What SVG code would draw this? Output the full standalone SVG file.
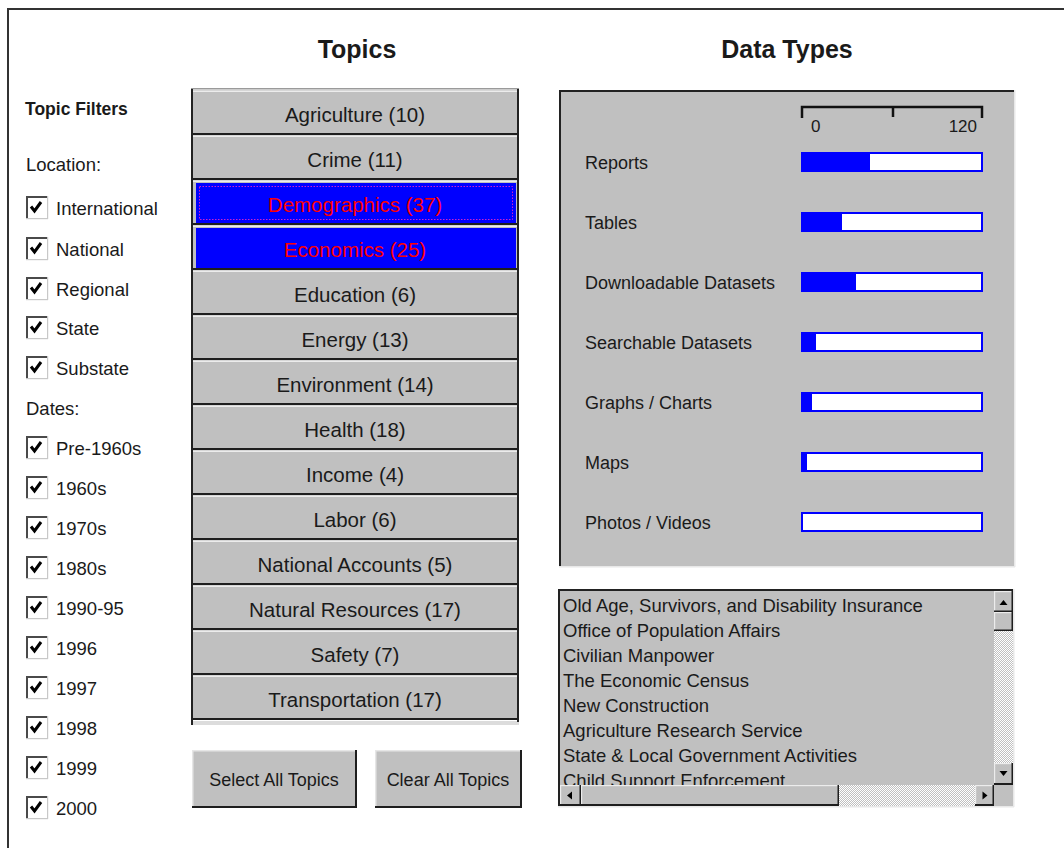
<svg xmlns="http://www.w3.org/2000/svg" width="1064" height="848" viewBox="0 0 1064 848">
<style>
.t{font-family:"Liberation Sans",Arial,sans-serif;fill:#1a1a1a}
.lbl{font-size:18.5px}
.btn{font-size:20.5px;text-anchor:middle}
.sel{fill:#ff0000}
.title{font-size:25px;font-weight:bold;text-anchor:middle}
.gray{fill:#c0c0c0}
.hl{fill:#ececec}
.sh{fill:#1e1e1e}
.blue{fill:#0000ff}
.bar{fill:#ffffff;stroke:#0000ff;stroke-width:2}
</style>
<defs>
<g id="cb">
<rect x="0" y="0" width="22" height="23" fill="#ffffff"/>
<rect x="0" y="0" width="22" height="2" fill="#4a4a4a"/>
<rect x="0" y="0" width="2" height="23" fill="#4a4a4a"/>
<rect x="0" y="22" width="22" height="1.2" fill="#c8c8c8"/>
<rect x="21" y="0" width="1.2" height="23" fill="#c8c8c8"/>
<path d="M5 10.5 L8.5 15 L15 6" fill="none" stroke="#000" stroke-width="3"/>
</g>
<pattern id="dither" width="2" height="2" patternUnits="userSpaceOnUse">
<rect width="2" height="2" fill="#c0c0c0"/>
<rect width="1" height="1" fill="#ffffff"/>
<rect x="1" y="1" width="1" height="1" fill="#ffffff"/>
</pattern>
<clipPath id="listclip"><rect x="560" y="591" width="434" height="194"/></clipPath>
</defs>
<rect width="1064" height="848" fill="#ffffff"/>
<g id="frame">
<rect x="7" y="8" width="1057" height="2" fill="#333"/>
<rect x="7" y="8" width="2" height="840" fill="#333"/>
</g>

<g id="titles">
<text class="t title" x="357" y="58">Topics</text>
<text class="t title" x="787" y="58">Data Types</text>
</g>

<g id="filters">
<text class="t" x="25" y="115" style="font-size:17.5px;font-weight:bold">Topic Filters</text>
<text class="t lbl" x="26" y="171">Location:</text>
<g id="cb-international"><use href="#cb" x="26" y="196"/><text class="t lbl" x="56" y="215">International</text></g>
<g id="cb-national"><use href="#cb" x="26" y="237"/><text class="t lbl" x="56" y="256">National</text></g>
<g id="cb-regional"><use href="#cb" x="26" y="277"/><text class="t lbl" x="56" y="296">Regional</text></g>
<g id="cb-state"><use href="#cb" x="26" y="316"/><text class="t lbl" x="56" y="335">State</text></g>
<g id="cb-substate"><use href="#cb" x="26" y="356"/><text class="t lbl" x="56" y="375">Substate</text></g>
<text class="t lbl" x="26" y="415">Dates:</text>
<g id="cb-pre1960"><use href="#cb" x="26" y="436"/><text class="t lbl" x="56" y="455">Pre-1960s</text></g>
<g id="cb-1960"><use href="#cb" x="26" y="476"/><text class="t lbl" x="56" y="495">1960s</text></g>
<g id="cb-1970"><use href="#cb" x="26" y="516"/><text class="t lbl" x="56" y="535">1970s</text></g>
<g id="cb-1980"><use href="#cb" x="26" y="556"/><text class="t lbl" x="56" y="575">1980s</text></g>
<g id="cb-1990"><use href="#cb" x="26" y="596"/><text class="t lbl" x="56" y="615">1990-95</text></g>
<g id="cb-1996"><use href="#cb" x="26" y="636"/><text class="t lbl" x="56" y="655">1996</text></g>
<g id="cb-1997"><use href="#cb" x="26" y="676"/><text class="t lbl" x="56" y="695">1997</text></g>
<g id="cb-1998"><use href="#cb" x="26" y="716"/><text class="t lbl" x="56" y="735">1998</text></g>
<g id="cb-1999"><use href="#cb" x="26" y="756"/><text class="t lbl" x="56" y="775">1999</text></g>
<g id="cb-2000"><use href="#cb" x="26" y="796"/><text class="t lbl" x="56" y="815">2000</text></g>
</g>

<g id="topics">
<rect x="191" y="88" width="328" height="1.5" fill="#9a9a9a"/>
<rect x="191" y="721" width="328" height="4" fill="#dcdcdc"/>
<g id="topic-agriculture"><rect class="gray" x="193" y="90" width="324" height="45"/><rect class="hl" x="193" y="90.5" width="324" height="1.5"/><rect class="sh" x="193" y="133" width="324" height="2"/><text class="t btn" x="355" y="122">Agriculture (10)</text></g>
<g id="topic-crime"><rect class="gray" x="193" y="135" width="324" height="45"/><rect class="hl" x="193" y="135.5" width="324" height="1.5"/><rect class="sh" x="193" y="178" width="324" height="2"/><text class="t btn" x="355" y="167">Crime (11)</text></g>
<g id="topic-demographics"><rect class="gray" x="193" y="180" width="324" height="45"/><rect class="hl" x="193" y="180.5" width="324" height="1.5"/><rect class="blue" x="196" y="183" width="320" height="40"/><rect x="199.5" y="186.5" width="313" height="33" fill="none" stroke="#cc22cc" stroke-width="1" stroke-dasharray="1.5 1.5"/><rect class="sh" x="193" y="223" width="324" height="2"/><text class="t btn sel" x="355" y="212">Demographics (37)</text></g>
<g id="topic-economics"><rect class="gray" x="193" y="225" width="324" height="45"/><rect class="hl" x="193" y="225.5" width="324" height="1.5"/><rect class="blue" x="196" y="228" width="320" height="40"/><rect class="sh" x="193" y="268" width="324" height="2"/><text class="t btn sel" x="355" y="257">Economics (25)</text></g>
<g id="topic-education"><rect class="gray" x="193" y="270" width="324" height="45"/><rect class="hl" x="193" y="270.5" width="324" height="1.5"/><rect class="sh" x="193" y="313" width="324" height="2"/><text class="t btn" x="355" y="302">Education (6)</text></g>
<g id="topic-energy"><rect class="gray" x="193" y="315" width="324" height="45"/><rect class="hl" x="193" y="315.5" width="324" height="1.5"/><rect class="sh" x="193" y="358" width="324" height="2"/><text class="t btn" x="355" y="347">Energy (13)</text></g>
<g id="topic-environment"><rect class="gray" x="193" y="360" width="324" height="45"/><rect class="hl" x="193" y="360.5" width="324" height="1.5"/><rect class="sh" x="193" y="403" width="324" height="2"/><text class="t btn" x="355" y="392">Environment (14)</text></g>
<g id="topic-health"><rect class="gray" x="193" y="405" width="324" height="45"/><rect class="hl" x="193" y="405.5" width="324" height="1.5"/><rect class="sh" x="193" y="448" width="324" height="2"/><text class="t btn" x="355" y="437">Health (18)</text></g>
<g id="topic-income"><rect class="gray" x="193" y="450" width="324" height="45"/><rect class="hl" x="193" y="450.5" width="324" height="1.5"/><rect class="sh" x="193" y="493" width="324" height="2"/><text class="t btn" x="355" y="482">Income (4)</text></g>
<g id="topic-labor"><rect class="gray" x="193" y="495" width="324" height="45"/><rect class="hl" x="193" y="495.5" width="324" height="1.5"/><rect class="sh" x="193" y="538" width="324" height="2"/><text class="t btn" x="355" y="527">Labor (6)</text></g>
<g id="topic-national-accounts"><rect class="gray" x="193" y="540" width="324" height="45"/><rect class="hl" x="193" y="540.5" width="324" height="1.5"/><rect class="sh" x="193" y="583" width="324" height="2"/><text class="t btn" x="355" y="572">National Accounts (5)</text></g>
<g id="topic-natural-resources"><rect class="gray" x="193" y="585" width="324" height="45"/><rect class="hl" x="193" y="585.5" width="324" height="1.5"/><rect class="sh" x="193" y="628" width="324" height="2"/><text class="t btn" x="355" y="617">Natural Resources (17)</text></g>
<g id="topic-safety"><rect class="gray" x="193" y="630" width="324" height="45"/><rect class="hl" x="193" y="630.5" width="324" height="1.5"/><rect class="sh" x="193" y="673" width="324" height="2"/><text class="t btn" x="355" y="662">Safety (7)</text></g>
<g id="topic-transportation"><rect class="gray" x="193" y="675" width="324" height="45"/><rect class="hl" x="193" y="675.5" width="324" height="1.5"/><rect class="sh" x="193" y="718" width="324" height="2"/><text class="t btn" x="355" y="707">Transportation (17)</text></g>
<rect x="191" y="89" width="2" height="636" fill="#222"/>
<rect x="517" y="89" width="2" height="633" fill="#222"/>
</g>

<g id="btn-select-all">
<rect class="gray" x="192" y="750" width="164" height="58"/>
<rect x="192" y="750" width="164" height="1.5" fill="#e6e6e6"/>
<rect x="192" y="750" width="1.5" height="58" fill="#e6e6e6"/>
<rect class="sh" x="192" y="806" width="165" height="2"/>
<rect class="sh" x="355" y="750" width="2" height="58"/>
<text class="t" x="274" y="786" style="font-size:18px;text-anchor:middle">Select All Topics</text>
</g>
<g id="btn-clear-all">
<rect class="gray" x="375" y="750" width="146" height="58"/>
<rect x="375" y="750" width="146" height="1.5" fill="#e6e6e6"/>
<rect x="375" y="750" width="1.5" height="58" fill="#e6e6e6"/>
<rect class="sh" x="375" y="806" width="147" height="2"/>
<rect class="sh" x="520" y="750" width="2" height="58"/>
<text class="t" x="448" y="786" style="font-size:18px;text-anchor:middle">Clear All Topics</text>
</g>

<g id="data-types">
<rect class="gray" x="559" y="90" width="456" height="477"/>
<rect x="559" y="90" width="456" height="2" fill="#222"/>
<rect x="559" y="90" width="2" height="477" fill="#222"/>
<rect x="559" y="566" width="456" height="1.5" fill="#e8e8e8"/>
<rect x="1014" y="90" width="1.5" height="477" fill="#e8e8e8"/>
<g id="axis">
<path d="M802 118 V107 H982 V118 M893 107 V117" fill="none" stroke="#111" stroke-width="2.5"/>
<text class="t" x="811" y="132" style="font-size:17px">0</text>
<text class="t" x="977" y="132" style="font-size:17px;text-anchor:end">120</text>
</g>
<g id="dt-reports"><text class="t" x="585" y="169" style="font-size:18px">Reports</text><rect class="bar" x="802" y="153" width="180" height="18"/><rect class="blue" x="801" y="152" width="69" height="20"/></g>
<g id="dt-tables"><text class="t" x="585" y="229" style="font-size:18px">Tables</text><rect class="bar" x="802" y="213" width="180" height="18"/><rect class="blue" x="801" y="212" width="41" height="20"/></g>
<g id="dt-downloadable"><text class="t" x="585" y="289" style="font-size:18px">Downloadable Datasets</text><rect class="bar" x="802" y="273" width="180" height="18"/><rect class="blue" x="801" y="272" width="55" height="20"/></g>
<g id="dt-searchable"><text class="t" x="585" y="349" style="font-size:18px">Searchable Datasets</text><rect class="bar" x="802" y="333" width="180" height="18"/><rect class="blue" x="801" y="332" width="15" height="20"/></g>
<g id="dt-graphs"><text class="t" x="585" y="409" style="font-size:18px">Graphs / Charts</text><rect class="bar" x="802" y="393" width="180" height="18"/><rect class="blue" x="801" y="392" width="11" height="20"/></g>
<g id="dt-maps"><text class="t" x="585" y="469" style="font-size:18px">Maps</text><rect class="bar" x="802" y="453" width="180" height="18"/><rect class="blue" x="801" y="452" width="6" height="20"/></g>
<g id="dt-photos"><text class="t" x="585" y="529" style="font-size:18px">Photos / Videos</text><rect class="bar" x="802" y="513" width="180" height="18"/></g>
</g>

<g id="source-list">
<rect class="gray" x="558" y="589" width="456" height="218"/>
<rect x="558" y="589" width="456" height="2" fill="#222"/>
<rect x="558" y="589" width="2" height="218" fill="#222"/>
<rect x="558" y="806" width="456" height="1.5" fill="#e8e8e8"/>
<rect x="1013" y="589" width="1.5" height="218" fill="#e8e8e8"/>
<g clip-path="url(#listclip)" class="t" style="font-size:18.5px">
<text class="t" x="563" y="612">Old Age, Survivors, and Disability Insurance</text>
<text class="t" x="563" y="637">Office of Population Affairs</text>
<text class="t" x="563" y="662">Civilian Manpower</text>
<text class="t" x="563" y="687">The Economic Census</text>
<text class="t" x="563" y="712">New Construction</text>
<text class="t" x="563" y="737">Agriculture Research Service</text>
<text class="t" x="563" y="762">State &amp; Local Government Activities</text>
<text class="t" x="563" y="787">Child Support Enforcement</text>
</g>
<g id="vscroll">
<rect x="994" y="591" width="19" height="194" fill="url(#dither)"/>
<rect class="gray" x="994" y="591" width="19" height="21"/>
<rect class="hl" x="994" y="591" width="19" height="1.2"/><rect class="hl" x="994" y="591" width="1.2" height="21"/>
<rect class="sh" x="994" y="610.5" width="19" height="1.5"/><rect class="sh" x="1011.5" y="591" width="1.5" height="21"/>
<path d="M999.5 605 L1003.5 600 L1007.5 605 Z" fill="#000"/>
<rect class="gray" x="994" y="612" width="19" height="19"/>
<rect class="hl" x="994" y="612" width="19" height="1.2"/><rect class="hl" x="994" y="612" width="1.2" height="19"/>
<rect class="sh" x="994" y="629.5" width="19" height="1.5"/><rect class="sh" x="1011.5" y="612" width="1.5" height="19"/>
<rect class="gray" x="994" y="763" width="19" height="22"/>
<rect class="hl" x="994" y="763" width="19" height="1.2"/><rect class="hl" x="994" y="763" width="1.2" height="22"/>
<rect class="sh" x="994" y="783" width="19" height="2"/><rect class="sh" x="1011.5" y="763" width="1.5" height="22"/>
<path d="M999.5 771 L1003.5 776 L1007.5 771 Z" fill="#000"/>
</g>
<g id="hscroll">
<rect x="560" y="785" width="434" height="21" fill="url(#dither)"/>
<rect class="gray" x="560" y="785" width="21" height="21"/>
<rect class="hl" x="560" y="785" width="21" height="1.2"/><rect class="hl" x="560" y="785" width="1.2" height="21"/>
<rect class="sh" x="560" y="804" width="21" height="2"/><rect class="sh" x="579.5" y="785" width="1.5" height="21"/>
<path d="M572 791.5 L567 795.5 L572 799.5 Z" fill="#000"/>
<rect class="gray" x="581" y="785" width="258" height="21"/>
<rect class="hl" x="581" y="785" width="258" height="1.2"/><rect class="hl" x="581" y="785" width="1.2" height="21"/>
<rect class="sh" x="581" y="804" width="258" height="2"/><rect class="sh" x="837.5" y="785" width="1.5" height="21"/>
<rect class="gray" x="975" y="785" width="19" height="21"/>
<rect class="hl" x="975" y="785" width="19" height="1.2"/><rect class="hl" x="975" y="785" width="1.2" height="21"/>
<rect class="sh" x="975" y="804" width="19" height="2"/><rect class="sh" x="992.5" y="785" width="1.5" height="21"/>
<path d="M982.5 791.5 L987.5 795.5 L982.5 799.5 Z" fill="#000"/>
<rect class="gray" x="994" y="785" width="19" height="21"/>
</g>
</g>
</svg>
